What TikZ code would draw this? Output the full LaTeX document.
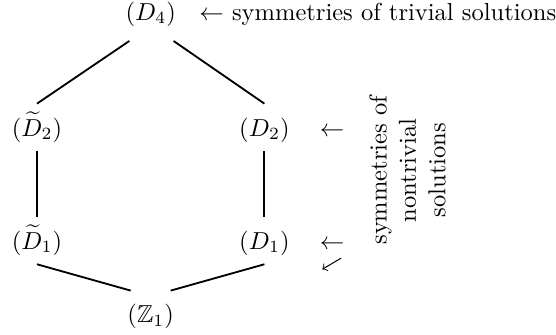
\documentclass[tikz,border=0pt]{standalone}
\usepackage{amssymb}
\usetikzlibrary{positioning}

\tikzset{every picture/.style={line width=0.75pt}}
\tikzset{grp/.style={anchor=base, text height=9.5pt, text depth=2.5pt}}

\begin{document}
\begin{tikzpicture}
    \useasboundingbox (0,0) rectangle (7.97,4.79);

\node[grp] (D4)  at (2.16,4.50) {$(D_4)$};
    \node[grp] (Dt2) at (0.53,2.84) {$(\widetilde{D}_2)$};
    \node[grp] (D2)  at (3.79,2.84) {$(D_2)$};
    \node[grp] (Dt1) at (0.53,1.22) {$(\widetilde{D}_1)$};
    \node[grp] (D1)  at (3.79,1.22) {$(D_1)$};
    \node[grp] (Z1)  at (2.16,0.16) {$(\mathbb{Z}_1)$};

\node[base right=4.5pt of D4, inner sep=1pt] (trivlabel) {$\leftarrow$ symmetries of trivial solutions};

\node[anchor=base] (arrtwo) at (4.76,2.84) {$\leftarrow$};
    \node[anchor=base] (arrone) at (4.76,1.22) {$\leftarrow$};
    \coordinate (swtail) at (4.89,1.09);
    \coordinate (swhead) at (4.62,0.93);
    \draw[-to, line width=0.4pt] (swtail) -- (swhead);

\node[rotate=90, align=center] (nontrivlabel) at (5.84,2.35) {symmetries of\\ nontrivial\\ solutions};

\draw[shorten <=4pt] (D4.241) -- (Dt2.north);
    \draw[shorten <=4pt] (D4.302) -- (D2.north);
    \draw (Dt2.south) -- (Dt1.north);
    \draw (D2.south) -- (D1.north);
    \draw (Dt1.south) -- (Z1.130);
    \draw (D1.south) -- (Z1.50);

\end{tikzpicture}
\end{document}
